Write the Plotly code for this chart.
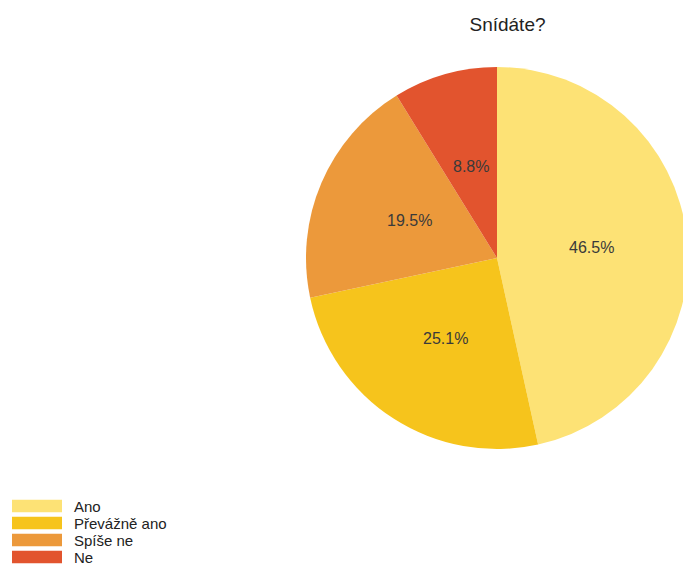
import math
import plotly.graph_objects as go

# Survey answers to "Snídáte?" (Do you eat breakfast?), share in percent
answers = ["Ano", "Převážně ano", "Spíše ne", "Ne"]
shares = [46.5, 25.1, 19.5, 8.8]
slice_colors = ["#FDE275", "#F6C41C", "#EC993B", "#E2542E"]

FONT = "Liberation Sans, Arial, sans-serif"

# Canvas is a few px wider than the window; the page hides the overflow so
# the right edge of the pie is clipped.
W, H = 690, 567
cx, cy, r = 497, 258, 191     # pie centre and radius in px
label_rho = 0.5               # slice labels sit at half the radius

fig = go.Figure(
    go.Pie(
        labels=answers,
        values=shares,
        sort=False,
        direction="clockwise",
        rotation=0,
        marker=dict(colors=slice_colors, line=dict(width=0)),
        textinfo="none",
        hoverinfo="label+percent",
        showlegend=False,
        domain=dict(
            x=[(cx - r) / W, (cx + r) / W],
            y=[(H - cy - r) / H, (H - cy + r) / H],
        ),
    )
)

# Percentage labels placed at the middle angle of each slice
total = sum(shares)
cum = 0.0
for value in shares:
    mid = 2 * math.pi * (cum + value / 2) / total
    cum += value
    px = cx + label_rho * r * math.sin(mid)
    py = cy - label_rho * r * math.cos(mid)
    fig.add_annotation(
        x=px / W, y=1 - py / H, xref="paper", yref="paper",
        text=f"{value:.1f}%", showarrow=False,
        xanchor="center", yanchor="middle",
        font=dict(family=FONT, size=16, color="#3a3a3a"),
    )

# Legend: wide colour swatches with labels, stacked at the bottom left
row_y0, row_step, sw_h = 506.0, 17.0, 12.5
for i, (name, col) in enumerate(zip(answers, slice_colors)):
    yc = row_y0 + i * row_step
    fig.add_shape(
        type="rect", xref="paper", yref="paper",
        x0=12 / W, x1=62 / W,
        y0=1 - (yc + sw_h / 2) / H, y1=1 - (yc - sw_h / 2) / H,
        fillcolor=col, line=dict(width=0), layer="above",
    )
    fig.add_annotation(
        x=73 / W, y=1 - yc / H, xref="paper", yref="paper",
        text=name, showarrow=False, xanchor="left", yanchor="middle",
        borderpad=0,
        font=dict(family=FONT, size=15, color="#222222"),
    )

fig.update_layout(
    width=W,
    height=H,
    margin=dict(l=0, r=0, t=0, b=0),
    paper_bgcolor="white",
    plot_bgcolor="white",
    font=dict(family=FONT, color="#222222"),
    title=dict(
        text="Snídáte?",
        x=507.5 / W,
        xanchor="center",
        y=1 - 24 / H,
        yanchor="middle",
        font=dict(size=19, color="#222222"),
    ),
    showlegend=False,
)

fig.write_html(
    "out.html",
    post_script=(
        "document.documentElement.style.overflow='hidden';"
        "document.body.style.overflow='hidden';"
        "document.body.style.margin='0';"
    ),
)
